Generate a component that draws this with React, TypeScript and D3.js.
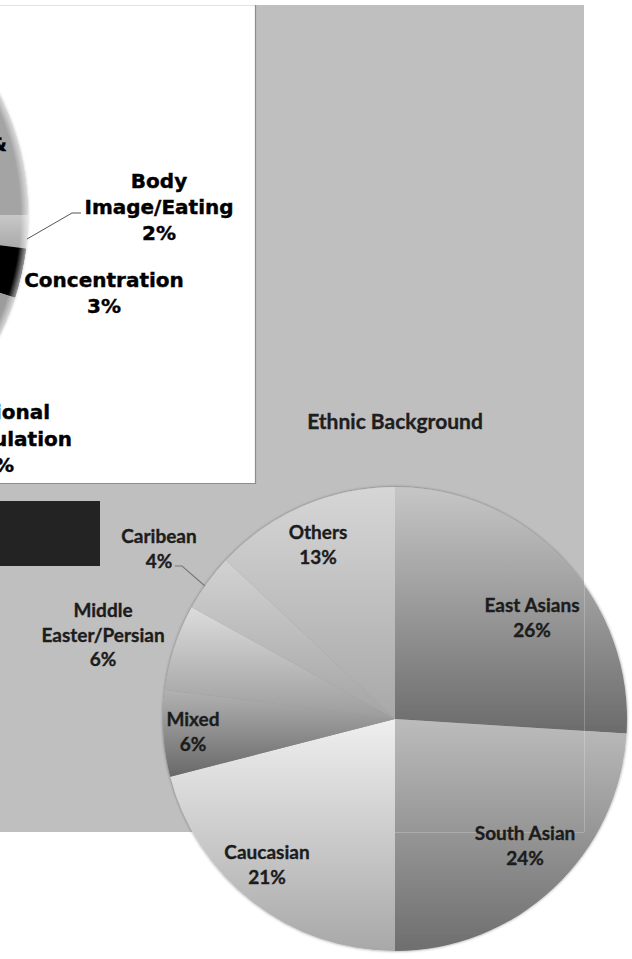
import React from "react";
import * as d3 from "d3";

// ---- Data ----
const ethnicTitle = "Ethnic Background";
const ethnicCategories = ["East Asians", "South Asian", "Caucasian", "Mixed", "Middle Easter/Persian", "Caribean", "Others"];
const ethnicValues = [26, 24, 21, 6, 6, 4, 13];

// Partially visible concerns pie (cropped at left edge)
const concernCategories = ["Anxiety &", "Body Image/Eating", "Concentration", "Emotional Regulation", "Other"];
const concernValues = [25, 2, 3, 11, 59];

// ---- Styles / layout ----
const W = 632;
const H = 959;
const ethnicTop = ["#c6c6c6", "#bcbcbc", "#efefef", "#b2b2b2", "#dcdcdc", "#d2d2d2", "#d6d6d6"];
const ethnicBottom = ["#6b6b6b", "#6e6e6e", "#a8a8a8", "#686868", "#9c9c9c", "#a4a4a4", "#a8a8a8"];
const ethnicLabelPos: [number, number][] = [
  [532, 612], [525, 840], [267, 859], [193, 726], [103, 617], [159, 543], [318, 539],
];
const concernColors = ["#a4a4a4", "url(#bodyGrad)", "#040404", "#9c9c9c", "#a6a6a6"];

function wrap(name: string): string[] {
  if (name.length > 12 && name.includes(" ")) {
    const i = name.indexOf(" ");
    return [name.slice(0, i), name.slice(i + 1)];
  }
  return [name];
}

export default function App() {
  // big pie
  const cx = 395, cy = 719, R = 232;
  const pie = d3.pie<number>().sort(null).value((d) => d);
  const arcs = pie(ethnicValues);
  const arc = d3.arc<d3.PieArcDatum<number>>().innerRadius(0).outerRadius(R);

  // left pie
  const lcx = -240, lcy = 215, lR = 268;
  const larcs = pie(concernValues);
  const larc = d3.arc<d3.PieArcDatum<number>>().innerRadius(0).outerRadius(lR);

  const labelFont = "Lato, 'Open Sans', sans-serif";
  const leftFont = "'DejaVu Sans', Verdana, sans-serif";

  return (
    <svg width={W} height={H} style={{ position: "absolute", left: 0, top: 0 }} xmlns="http://www.w3.org/2000/svg">
      <defs>
        {ethnicValues.map((_, i) => (
          <linearGradient key={i} id={`eg${i}`} x1="0" y1="0" x2="0" y2="1">
            <stop offset="0" stopColor={ethnicTop[i]} />
            <stop offset="1" stopColor={ethnicBottom[i]} />
          </linearGradient>
        ))}
        <linearGradient id="bodyGrad" x1="0" y1="0" x2="0" y2="1">
          <stop offset="0" stopColor="#c8c8c8" />
          <stop offset="1" stopColor="#a9a9a9" />
        </linearGradient>
        <radialGradient id="leftEdge" gradientUnits="userSpaceOnUse" cx="0" cy="0" r={lR}>
          <stop offset="0.972" stopColor="#ffffff" stopOpacity="0" />
          <stop offset="1" stopColor="#ffffff" stopOpacity="0.6" />
        </radialGradient>
        <filter id="pieShadow" x="-10%" y="-10%" width="120%" height="120%">
          <feDropShadow dx="0" dy="0" stdDeviation="1.8" floodColor="#000" floodOpacity="0.45" />
        </filter>
        <filter id="leftShadow" x="-10%" y="-10%" width="120%" height="120%">
          <feDropShadow dx="0" dy="0" stdDeviation="1.5" floodColor="#000" floodOpacity="0.25" />
        </filter>
        <clipPath id="boxClip">
          <rect x={0} y={5} width={255} height={478} />
        </clipPath>
        <clipPath id="bigPieClip">
          <circle cx={cx} cy={cy} r={R} />
        </clipPath>
      </defs>

      <rect x={0} y={0} width={W} height={H} fill="#ffffff" />
      {/* gray panel */}
      <rect x={0} y={5} width={584} height={827} fill="#bfbfbf" />

      {/* white panel with left pie */}
      <rect x={-1} y={5} width={256} height={478} fill="#ffffff" />
      <g clipPath="url(#boxClip)">
        <g transform={`translate(${lcx},${lcy})`}>
          <g filter="url(#leftShadow)">
            {larcs.map((a, i) => (
              <path key={i} d={larc(a) || ""} fill={concernColors[i]} />
            ))}
          </g>
          <circle r={lR} fill="url(#leftEdge)" />
        </g>
        {/* leader */}
        <polyline points="27,239 72,213 81,213" fill="none" stroke="#555" strokeWidth={1} />
        <g fontFamily={leftFont} fontWeight="bold" fontSize={20} fill="#000" stroke="#000" strokeWidth={0.4}>
          <text x={7} y={151} textAnchor="end">{concernCategories[0]}</text>
          <text textAnchor="middle">
            <tspan x={159} y={188}>Body</tspan>
            <tspan x={159} y={214}>Image/Eating</tspan>
            <tspan x={159} y={240}>{concernValues[1]}%</tspan>
          </text>
          <text textAnchor="middle">
            <tspan x={104} y={287}>{concernCategories[2]}</tspan>
            <tspan x={104} y={313}>{concernValues[2]}%</tspan>
          </text>
          <text textAnchor="end">
            <tspan x={50} y={419}>Emotional</tspan>
            <tspan x={72} y={446}>Regulation</tspan>
            <tspan x={14} y={472}>{concernValues[3]}%</tspan>
          </text>
        </g>
      </g>
      <line x1={0} y1={5.5} x2={255} y2={5.5} stroke="#e2e2e2" strokeWidth={1} />
      <line x1={255.5} y1={5} x2={255.5} y2={484} stroke="#8c8c8c" strokeWidth={1.2} />
      <line x1={0} y1={483.5} x2={256} y2={483.5} stroke="#8c8c8c" strokeWidth={1.2} />

      {/* dark block */}
      <rect x={0} y={501} width={100} height={65} fill="#232323" />

      {/* title */}
      <text x={395} y={429} textAnchor="middle" fontFamily={labelFont} fontWeight="bold" fontSize={21}
        fill="#1e1e1e" stroke="#1e1e1e" strokeWidth={0.35}>
        {ethnicTitle}
      </text>

      {/* big pie */}
      <g transform={`translate(${cx},${cy})`} filter="url(#pieShadow)">
        {arcs.map((a, i) => (
          <path key={i} d={arc(a) || ""} fill={`url(#eg${i})`} />
        ))}
      </g>
      <g clipPath="url(#bigPieClip)" stroke="#ffffff" strokeOpacity={0.22} strokeWidth={1}>
        <line x1={584.5} y1={5} x2={584.5} y2={832} />
        <line x1={cx} y1={832.5} x2={584} y2={832.5} />
      </g>

      {/* leader for Caribean */}
      <polyline points="175,566 182,566 205,586" fill="none" stroke="#7a7a7a" strokeWidth={1.2} />

      {/* labels */}
      <g fontFamily={labelFont} fontWeight="bold" fontSize={19} fill="#1c1c1c" stroke="#1c1c1c" strokeWidth={0.35} textAnchor="middle">
        {ethnicCategories.map((c, i) => {
          const lines = [...wrap(c), `${ethnicValues[i]}%`];
          const [lx, ly] = ethnicLabelPos[i];
          return (
            <text key={c}>
              {lines.map((l, j) => (
                <tspan key={j} x={lx} y={ly + j * 24.5}>{l}</tspan>
              ))}
            </text>
          );
        })}
      </g>
    </svg>
  );
}
